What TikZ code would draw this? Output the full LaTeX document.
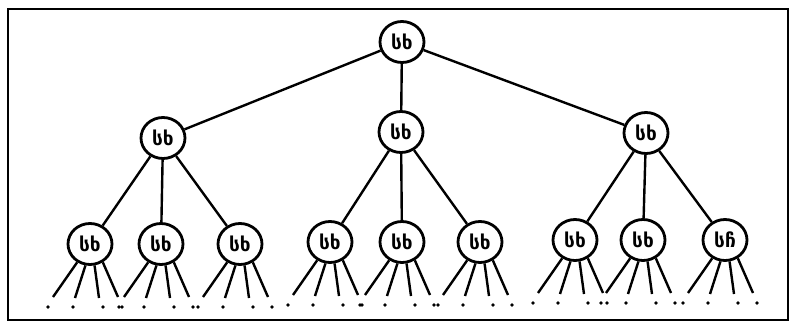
\documentclass[tikz,border=0pt]{standalone}
\usepackage{fontspec}
\setmainfont{DejaVu Sans}
\usetikzlibrary{shapes.geometric}
\begin{document}
\begin{tikzpicture}[x=1pt,y=-1pt,
  nd/.style={ellipse,draw,line width=2.8pt,minimum width=44pt,minimum height=41pt,inner sep=0pt,
    font=\fontsize{19}{19}\selectfont\bfseries},
  edge/.style={line width=2.4pt},
  fan/.style={line width=2.4pt},
  dotmark/.style={circle,fill,inner sep=0pt,minimum size=3.6pt}]
\useasboundingbox (0,0) rectangle (795,326);
\draw[line width=2.4pt] (8,9) rectangle (788,320);
% root and level 1
\node[nd] (r) at (402,42) {სხ};
\node[nd] (a) at (163,138) {სხ};
\node[nd] (b) at (401,132) {სხ};
\node[nd] (c) at (646,133) {სხ};
\draw[edge] (r) -- (a);
\draw[edge] (r) -- (b);
\draw[edge] (r) -- (c);
% leaves
\node[nd] (a1) at (90,244) {სხ};
\node[nd] (a2) at (161,244) {სხ};
\node[nd] (a3) at (240,244) {სხ};
\node[nd] (b1) at (330,242) {სხ};
\node[nd] (b2) at (402,242) {სხ};
\node[nd] (b3) at (480,242) {სხ};
\node[nd] (c1) at (575,240) {სხ};
\node[nd] (c2) at (643,240) {სხ};
\node[nd] (c3) at (725,240) {სჩ};
\foreach \p/\q in {a/a1,a/a2,a/a3,b/b1,b/b2,b/b3,c/c1,c/c2,c/c3}
  \draw[edge] (\p) -- (\q);
% fans and dots below the leaves
\foreach \l in {a1,a2,a3,b1,b2,b3,c1,c2,c3}{
  \coordinate (\l-e1) at ([shift={(-37pt,-53pt)}]\l.center);
  \coordinate (\l-e2) at ([shift={(-15pt,-54pt)}]\l.center);
  \coordinate (\l-e3) at ([shift={(9pt,-54pt)}]\l.center);
  \coordinate (\l-e4) at ([shift={(28pt,-53pt)}]\l.center);
  \draw[fan] (\l.235) -- (\l-e1);
  \draw[fan] (\l.258) -- (\l-e2);
  \draw[fan] (\l.282) -- (\l-e3);
  \draw[fan] (\l.305) -- (\l-e4);
  \node[dotmark] (\l-d1) at ([shift={(-42pt,-63pt)}]\l.center) {};
  \node[dotmark] (\l-d2) at ([shift={(-17pt,-63pt)}]\l.center) {};
  \node[dotmark] (\l-d3) at ([shift={(13pt,-63pt)}]\l.center) {};
  \node[dotmark] (\l-d4) at ([shift={(32pt,-63pt)}]\l.center) {};
}
\end{tikzpicture}
\end{document}
